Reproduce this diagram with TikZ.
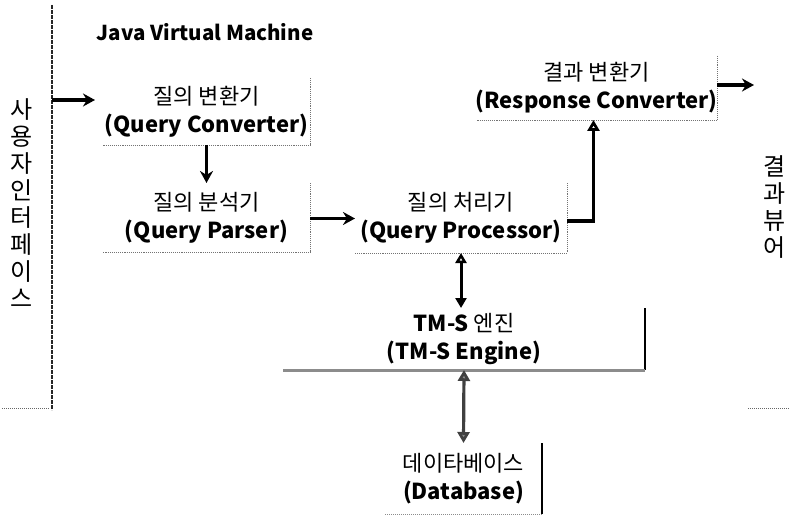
\documentclass[tikz,border=0pt]{standalone}
\usepackage{fontspec}
\setmainfont{Noto Sans CJK KR}
\usetikzlibrary{arrows.meta}
\newcommand{\en}[1]{{\bfseries #1}}
\begin{document}
\begin{tikzpicture}[x=1pt,y=-1pt,
  every node/.style={inner sep=0pt, outer sep=0pt},
  txt/.style={align=center, font=\fontsize{22}{28}\selectfont},
  vtxt/.style={align=center, font=\fontsize{24}{27}\selectfont},
  procbox/.style={txt, minimum width=#1},
  shadowedge/.style={draw=black!55, densely dotted, line width=0.9pt},
  bigarrow/.style={draw=black, line width=3.6pt, -{Stealth[length=12pt,width=13pt]}},
  openup/.style={draw=black, line width=3.6pt, -{Triangle[open,length=11pt,width=12pt,fill=white]}},
  bothways/.style={draw=black, line width=3pt, {Triangle[open,length=10pt,width=11pt,fill=white]}-{Triangle[length=10pt,width=11pt]}},
  greyway/.style={draw=black!75, line width=3.2pt, {Triangle[length=11pt,width=12pt,fill=black!45]}-{Triangle[length=11pt,width=12pt,fill=black!45]}}
]
\useasboundingbox (0,0) rectangle (795,516);

% JVM boundary on the left and its title
\draw[black!85, line width=1.2pt, dash pattern=on 4pt off 1pt] (52,5) -- (52,410);
\draw[black!60, densely dotted, line width=1pt] (2,408) -- (50,408);
\draw[black!60, densely dotted, line width=1pt] (748,408) -- (790,408);
\node[font=\fontsize{20.5}{22}\selectfont\bfseries] (jvm) at (205,32) {Java Virtual Machine};

% side labels
\node[vtxt] (ui) at (22,203) {사\\용\\자\\인\\터\\페\\이\\스};
\node[vtxt] (viewer) at (775,207) {결\\과\\뷰\\어};

% processing components
\node[procbox=207pt, minimum height=67pt] (qc) at (206.5,111.5) {질의 변환기\\\en{(Query Converter)}};
\node[procbox=207pt, minimum height=69pt] (qpar) at (206.5,217.5) {질의 분석기\\\en{(Query Parser)}};
\node[procbox=212pt, minimum height=70pt] (qproc) at (461,218) {질의 처리기\\\en{(Query Processor)}};
\node[procbox=233pt, minimum height=64pt] (rc) at (596.5,88) {결과 변환기\\\en{(Response Converter)}};
\node[procbox=362pt, minimum height=62pt] (tms) at (464,339) {\en{TM-S} 엔진\\\en{(TM-S Engine)}};
\node[procbox=157pt, minimum height=71pt] (db) at (463.5,478.5) {데이타베이스\\\en{(Database)}};

% box edges (right and bottom only)
\foreach \b in {qc,qpar,qproc,rc}
  \draw[shadowedge] (\b.north east) -- (\b.south east) -- (\b.south west);
\draw[black, line width=1.2pt] (tms.north east) -- (tms.south east);
\draw[black!45, line width=3pt] (tms.south west) -- (tms.south east);
\draw[black, line width=1.2pt] (db.north east) -- (db.south east);
\draw[black!45, densely dotted, line width=1pt] (db.south west) -- (db.south east);

% connectors
\coordinate (uiedge) at (52,100);
\coordinate (uiin) at (95,100);
\draw[bigarrow] (uiedge) -- (uiin);
\draw[bigarrow] (qc.south) -- (qpar.north);
\draw[bigarrow] ([yshift=-1pt]qpar.east) -- ([yshift=-1pt]qpar.east -| qproc.west);
\draw[openup] ([yshift=-3pt]qproc.east) -| ([xshift=-3pt]rc.south);
\coordinate (outend) at (754,85);
\draw[bigarrow] (rc.east |- outend) -- (outend);
\draw[bothways] (qproc.south) -- (qproc.south |- tms.north);
\draw[greyway] (tms.south) -- (db.north);
\end{tikzpicture}
\end{document}
